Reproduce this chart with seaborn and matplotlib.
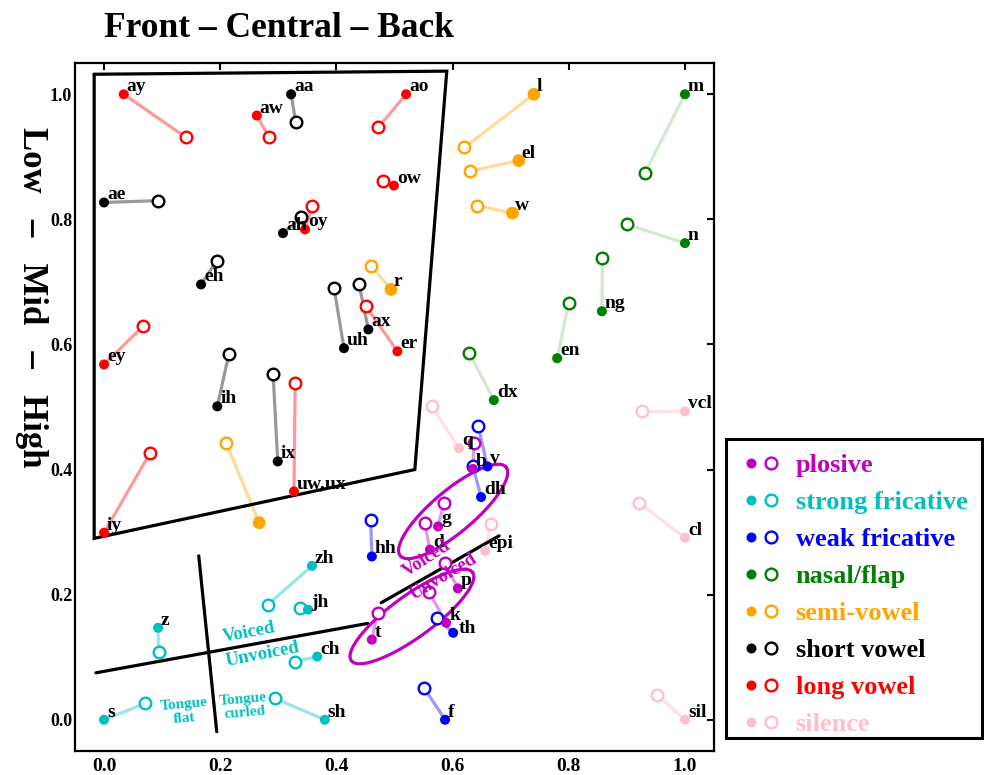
import numpy as np
import pandas as pd
import matplotlib
matplotlib.use("Agg")
import matplotlib.pyplot as plt
import seaborn as sns
from matplotlib.lines import Line2D
from matplotlib.patches import Rectangle
from matplotlib.legend_handler import HandlerTuple

# ---------------- data ----------------
categories = ["plosive", "strong fricative", "weak fricative", "nasal/flap",
              "semi-vowel", "short vowel", "long vowel", "silence"]
cat_colors = ["#BF00BF", "#00BFBF", "#0000FF", "#008000",
              "#FFA500", "#000000", "#FF0000", "#FFC0CB"]

plosive_names = ["b", "d", "g", "p", "t", "k"]
plosive_fx = [0.635, 0.561, 0.575, 0.609, 0.461, 0.589]
plosive_fy = [0.401, 0.272, 0.309, 0.210, 0.128, 0.155]
plosive_ox = [0.637, 0.552, 0.585, 0.587, 0.471, 0.559]
plosive_oy = [0.443, 0.315, 0.347, 0.250, 0.171, 0.205]

strongfric_names = ["s", "z", "zh", "jh", "ch", "sh"]
strongfric_fx = [0.000, 0.093, 0.358, 0.351, 0.367, 0.380]
strongfric_fy = [0.000, 0.147, 0.246, 0.176, 0.101, 0.000]
strongfric_ox = [0.071, 0.094, 0.282, 0.337, 0.329, 0.294]
strongfric_oy = [0.026, 0.108, 0.184, 0.179, 0.093, 0.034]

weakfric_names = ["v", "dh", "th", "f", "hh"]
weakfric_fx = [0.660, 0.649, 0.601, 0.587, 0.461]
weakfric_fy = [0.405, 0.356, 0.139, 0.000, 0.261]
weakfric_ox = [0.644, 0.635, 0.573, 0.551, 0.459]
weakfric_oy = [0.470, 0.405, 0.163, 0.051, 0.320]

nasal_names = ["m", "n", "ng", "en", "dx"]
nasal_fx = [1.000, 1.000, 0.857, 0.780, 0.671]
nasal_fy = [1.000, 0.762, 0.653, 0.578, 0.511]
nasal_ox = [0.931, 0.900, 0.858, 0.800, 0.629]
nasal_oy = [0.874, 0.792, 0.739, 0.667, 0.586]

semivowel_names = ["l", "el", "w", "r", ""]
semivowel_fx = [0.740, 0.714, 0.703, 0.494, 0.267]
semivowel_fy = [1.000, 0.894, 0.810, 0.688, 0.315]
semivowel_ox = [0.620, 0.630, 0.642, 0.460, 0.210]
semivowel_oy = [0.915, 0.877, 0.822, 0.725, 0.443]

short_names = ["aa", "ae", "ah", "eh", "ih", "ix", "uh", "ax"]
short_fx = [0.322, 0.000, 0.308, 0.167, 0.195, 0.299, 0.413, 0.455]
short_fy = [1.000, 0.827, 0.778, 0.696, 0.501, 0.413, 0.594, 0.624]
short_ox = [0.330, 0.093, 0.339, 0.194, 0.215, 0.291, 0.396, 0.439]
short_oy = [0.955, 0.830, 0.803, 0.734, 0.585, 0.553, 0.690, 0.696]

long_names = ["ay", "aw", "ao", "ow", "oy", "ey", "iy", "er", "uw,ux"]
long_fx = [0.034, 0.263, 0.520, 0.499, 0.346, 0.000, 0.000, 0.505, 0.327]
long_fy = [1.000, 0.966, 1.000, 0.854, 0.784, 0.568, 0.299, 0.589, 0.365]
long_ox = [0.141, 0.284, 0.472, 0.480, 0.358, 0.067, 0.079, 0.451, 0.329]
long_oy = [0.931, 0.931, 0.947, 0.861, 0.821, 0.629, 0.426, 0.661, 0.539]

silence_names = ["vcl", "cl", "sil", "q", "epi"]
silence_fx = [1.000, 1.000, 1.000, 0.611, 0.656]
silence_fy = [0.493, 0.291, 0.000, 0.434, 0.270]
silence_ox = [0.926, 0.921, 0.952, 0.565, 0.666]
silence_oy = [0.493, 0.347, 0.040, 0.501, 0.313]

groups = [
    (plosive_names, plosive_fx, plosive_fy, plosive_ox, plosive_oy),
    (strongfric_names, strongfric_fx, strongfric_fy, strongfric_ox, strongfric_oy),
    (weakfric_names, weakfric_fx, weakfric_fy, weakfric_ox, weakfric_oy),
    (nasal_names, nasal_fx, nasal_fy, nasal_ox, nasal_oy),
    (semivowel_names, semivowel_fx, semivowel_fy, semivowel_ox, semivowel_oy),
    (short_names, short_fx, short_fy, short_ox, short_oy),
    (long_names, long_fx, long_fy, long_ox, long_oy),
    (silence_names, silence_fx, silence_fy, silence_ox, silence_oy),
]

rows = []
uid = 0
for cat, (names, fx, fy, ox, oy) in zip(categories, groups):
    for n, a, b, c, d in zip(names, fx, fy, ox, oy):
        rows.append(dict(uid=uid, name=n, cat=cat, kind="filled", x=a, y=b))
        rows.append(dict(uid=uid, name=n, cat=cat, kind="open", x=c, y=d))
        uid += 1
df = pd.DataFrame(rows)

# ---------------- style ----------------
sns.set_style("white")
FONT = ["Liberation Serif", "DejaVu Serif"]
plt.rcParams["font.family"] = FONT
plt.rcParams["font.weight"] = "bold"
plt.rcParams["text.color"] = "black"
plt.rcParams["xtick.color"] = "black"
plt.rcParams["ytick.color"] = "black"
plt.rcParams["axes.labelcolor"] = "black"

fig = plt.figure(figsize=(9.84, 7.75), dpi=100)
ax = fig.add_axes([75 / 984, 24 / 775, 639 / 984, 688 / 775])

line_alpha = {"nasal/flap": 0.18, "silence": 0.5}
for cat, col in zip(categories, cat_colors):
    sub = df[df.cat == cat]
    sns.lineplot(data=sub, x="x", y="y", units="uid", estimator=None, sort=False,
                 color=col, alpha=line_alpha.get(cat, 0.4), lw=2.3, legend=False,
                 ax=ax, zorder=1)
    sns.scatterplot(data=sub[sub.kind == "open"], x="x", y="y", s=70,
                    facecolor="white", edgecolor=col, linewidth=1.7,
                    legend=False, ax=ax, zorder=2)
    sns.scatterplot(data=sub[sub.kind == "filled"], x="x", y="y",
                    s=85 if cat == "semi-vowel" else 52,
                    color=col, edgecolor="none", linewidth=0,
                    legend=False, ax=ax, zorder=3)

label_offset = {"th": (6, 0)}
for _, r in df[df.kind == "filled"].iterrows():
    if r["name"]:
        ax.annotate(r["name"], (r.x, r.y), xytext=label_offset.get(r["name"], (3, 3)),
                    textcoords="offset pixels",
                    fontsize=14, fontweight="bold", ha="left", va="baseline",
                    color="black", zorder=4)

# vowel quadrilateral
ax.plot([-0.017, 0.590, 0.535, -0.017, -0.017],
        [1.032, 1.037, 0.400, 0.290, 1.032], color="black", lw=2.3,
        solid_joinstyle="miter", zorder=1.5)
# voiced/unvoiced and tongue lines
ax.plot([-0.014, 0.454], [0.075, 0.154], color="black", lw=2.3, zorder=1.5)
ax.plot([0.477, 0.680], [0.187, 0.294], color="black", lw=2.3, zorder=1.5)
ax.plot([0.163, 0.194], [0.262, -0.019], color="black", lw=2.3, zorder=1.5)

# plosive ellipses (defined in pixel space, mapped to data)
def ellipse(cx, cy, a, b, theta):
    t = np.linspace(0, 2 * np.pi, 200)
    th = np.deg2rad(theta)
    dx = a * np.cos(t) * np.cos(th) - b * np.sin(t) * np.sin(th)
    dy = a * np.cos(t) * np.sin(th) + b * np.sin(t) * np.cos(th)
    return cx + dx / 581.0, cy + dy / 625.0

ex, ey = ellipse(0.601, 0.333, 69, 21, 40)
ax.plot(ex, ey, color="#BF00BF", lw=2.3, zorder=1.6)
ex, ey = ellipse(0.530, 0.165, 75, 21, 36)
ax.plot(ex, ey, color="#BF00BF", lw=2.3, zorder=1.6)

tk = dict(fontweight="bold", ha="center", va="center", zorder=4)
ax.text(0.556, 0.258, "Voiced", color="#BF00BF", fontsize=13.5, rotation=33, **tk)
ax.text(0.585, 0.228, "Unvoiced", color="#BF00BF", fontsize=13.5, rotation=31, **tk)
ax.text(0.249, 0.139, "Voiced", color="#00BFBF", fontsize=13.5, rotation=11, **tk)
ax.text(0.273, 0.104, "Unvoiced", color="#00BFBF", fontsize=13.5, rotation=11, **tk)
ax.text(0.138, 0.013, "Tongue\nflat", color="#00BFBF", fontsize=11, rotation=5,
        linespacing=1.1, **tk)
ax.text(0.241, 0.022, "Tongue\ncurled", color="#00BFBF", fontsize=11, rotation=5,
        linespacing=1.1, **tk)

ax.set_xlim(-0.05, 1.05)
ax.set_ylim(-0.05, 1.05)
ax.set_xticks([0.0, 0.2, 0.4, 0.6, 0.8, 1.0])
ax.set_yticks([0.0, 0.2, 0.4, 0.6, 0.8, 1.0])
ax.set_xlabel("")
ax.set_ylabel("")
ax.tick_params(direction="in", top=True, right=True, length=5, width=1.5,
               colors="black")
ax.tick_params(axis="x", labelsize=14, pad=5)
ax.tick_params(axis="y", labelsize=13, pad=2)
for lab in ax.get_xticklabels() + ax.get_yticklabels():
    lab.set_fontweight("bold")
for sp in ax.spines.values():
    sp.set_linewidth(1.6)
    sp.set_color("black")

fig.text(104 / 984, 1 - 37 / 775, "Front – Central – Back", fontsize=25.5,
         fontweight="bold", ha="left", va="baseline", color="black")
fig.text(31 / 984, 1 - 297 / 775, "Low   –   Mid   –   High", fontsize=25,
         fontweight="bold", ha="center", va="center", rotation=270, color="black")

# legend (entries via legend, box drawn as a figure rectangle)
handles = []
for col in cat_colors:
    h1 = Line2D([], [], ls="", marker="o", markersize=7.2, color=col, mec="none")
    h2 = Line2D([], [], ls="", marker="o", markersize=8.5, mfc="white", mec=col, mew=1.7)
    handles.append((h1, h2))
leg = fig.legend(handles, categories, loc="upper left",
                 bbox_to_anchor=(726 / 984, 1 - 439 / 775), borderaxespad=0,
                 handler_map={tuple: HandlerTuple(ndivide=None, pad=0)},
                 prop=dict(family=FONT, weight="bold", size=19),
                 frameon=False,
                 handlelength=1.52, handletextpad=0.57, labelspacing=0.515,
                 borderpad=0.55)
for t, col in zip(leg.get_texts(), cat_colors):
    t.set_color(col)
fig.patches.append(Rectangle((726 / 984, 1 - 738 / 775), 256 / 984, 299 / 775,
                             transform=fig.transFigure, fill=False,
                             edgecolor="black", linewidth=2.2, zorder=5))

fig.savefig("out.png", dpi=100)
